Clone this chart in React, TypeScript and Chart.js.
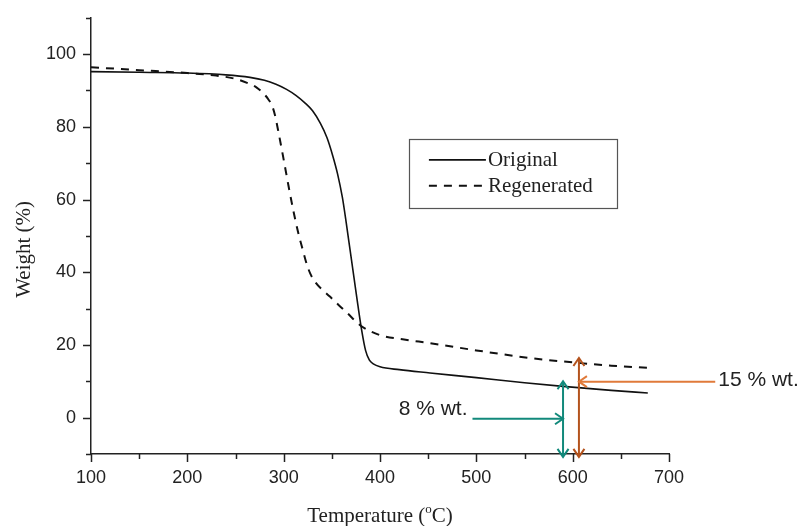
import React, { useEffect, useRef } from 'react';
import { Chart, registerables } from 'chart.js';

Chart.register(...registerables);

// ---- Data ----
const originalTemp = [100, 150, 200, 240, 265, 280, 292, 303, 313, 322, 330, 338, 345, 351, 356, 361, 365, 369, 373, 377, 381, 385, 389, 393, 400, 420, 452, 500, 550, 590, 640, 678];
const originalWeight = [95.2, 95.0, 94.8, 94.3, 93.6, 92.8, 91.7, 90.3, 88.6, 86.6, 84.4, 81.0, 77.0, 72.0, 67.0, 60.5, 53.5, 46.0, 38.5, 31.0, 24.0, 18.5, 15.8, 14.8, 14.0, 13.2, 12.3, 11.0, 9.6, 8.6, 7.5, 6.8];

const regenTemp = [100, 150, 200, 230, 250, 262, 272, 279, 284, 288, 291, 295, 300, 305, 310, 315, 320, 324, 328, 333, 340, 348, 357, 366, 379, 400, 425, 452, 500, 556, 608, 640, 678];
const regenWeight = [96.4, 95.6, 94.8, 94.1, 93.2, 92.1, 90.8, 89.2, 87.6, 85.8, 83.2, 78.0, 71.0, 63.8, 57.0, 51.0, 46.0, 42.2, 39.4, 37.2, 35.2, 33.3, 31.0, 28.8, 25.5, 22.7, 21.5, 20.5, 18.5, 16.4, 15.0, 14.3, 13.7];

const seriesLabels = ['Original', 'Regenerated'];

const xMin = 100;
const xMax = 700;
const xStep = 50;
const xLabelStep = 100;
const yMin = -10;
const yMax = 110;
const yStep = 10;
const yLabelStep = 20;

const xTitle = 'Temperature (';
const xTitleSup = 'o';
const xTitleEnd = 'C)';
const yTitle = 'Weight (%)';

// annotation arrows (data units)
const annotLabels = ['8 % wt.', '15 % wt.'];
const annotTemps = [590, 606.5];          // vertical double arrows
const annotTops = [10, 16.4];             // top of vertical arrows (weight)
const annotBottom = -10.8;                // bottom of vertical arrows
const annotPointerFrom = [496, 748];      // start of horizontal pointer (temp)
const annotPointerWeight = [-0.3, 9.9];   // weight of horizontal pointer
const annotLabelWeight = [2.4, 10.4];
const annotColorsV = ['#12897b', '#b4531d'];
const annotColorsH = ['#12897b', '#e07a3a'];

const AXIS_COLOR = '#222222';

function drawHead(ctx: CanvasRenderingContext2D, x: number, y: number, dir: 'up' | 'down' | 'left' | 'right') {
  const L = 8;
  const W = 5.5;
  ctx.beginPath();
  if (dir === 'up') { ctx.moveTo(x - W, y + L); ctx.lineTo(x, y); ctx.lineTo(x + W, y + L); }
  if (dir === 'down') { ctx.moveTo(x - W, y - L); ctx.lineTo(x, y); ctx.lineTo(x + W, y - L); }
  if (dir === 'left') { ctx.moveTo(x + L, y - W); ctx.lineTo(x, y); ctx.lineTo(x + L, y + W); }
  if (dir === 'right') { ctx.moveTo(x - L, y - W); ctx.lineTo(x, y); ctx.lineTo(x - L, y + W); }
  ctx.stroke();
}

const decorPlugin = {
  id: 'decor',
  afterDraw(chart: any) {
    const ctx: CanvasRenderingContext2D = chart.ctx;
    const xs = chart.scales.x;
    const ys = chart.scales.y;
    const area = chart.chartArea;
    ctx.save();

    // ticks (major + minor)
    ctx.strokeStyle = AXIS_COLOR;
    ctx.lineWidth = 1.5;
    for (let v = xMin; v <= xMax; v += xStep) {
      const px = Math.round(xs.getPixelForValue(v)) + 0.5;
      const len = v % xLabelStep === 0 ? 8 : 5;
      ctx.beginPath();
      ctx.moveTo(px, area.bottom);
      ctx.lineTo(px, area.bottom + len);
      ctx.stroke();
    }
    for (let v = yMin; v <= yMax; v += yStep) {
      const py = Math.round(ys.getPixelForValue(v)) + 0.5;
      const len = v % yLabelStep === 0 ? 8 : 5;
      ctx.beginPath();
      ctx.moveTo(area.left, py);
      ctx.lineTo(area.left - len, py);
      ctx.stroke();
    }

    // axis titles
    ctx.fillStyle = '#222';
    ctx.font = '21px "Liberation Serif"';
    ctx.textBaseline = 'alphabetic';
    const w1 = ctx.measureText(xTitle).width;
    ctx.font = '13px "Liberation Serif"';
    const w2 = ctx.measureText(xTitleSup).width;
    ctx.font = '21px "Liberation Serif"';
    const w3 = ctx.measureText(xTitleEnd).width;
    const total = w1 + w2 + w3;
    const cx = (area.left + area.right) / 2;
    let tx = cx - total / 2;
    const ty = 522;
    ctx.textAlign = 'left';
    ctx.fillText(xTitle, tx, ty);
    tx += w1;
    ctx.font = '13px "Liberation Serif"';
    ctx.fillText(xTitleSup, tx, ty - 9);
    tx += w2;
    ctx.font = '21px "Liberation Serif"';
    ctx.fillText(xTitleEnd, tx, ty);

    ctx.save();
    ctx.translate(24, ys.getPixelForValue(46.3));
    ctx.rotate(-Math.PI / 2);
    ctx.textAlign = 'center';
    ctx.textBaseline = 'middle';
    ctx.font = '21px "Liberation Serif"';
    ctx.fillText(yTitle, 0, 0);
    ctx.restore();

    // legend
    const lx = xs.getPixelForValue(430);
    const ly = ys.getPixelForValue(76.7);
    const lw = 208;
    const lh = 69;
    ctx.strokeStyle = '#555';
    ctx.lineWidth = 1.2;
    ctx.strokeRect(Math.round(lx) + 0.5, Math.round(ly) + 0.5, lw, lh);
    chart.data.datasets.forEach((ds: any, i: number) => {
      const rowY = ly + 21 + i * 26;
      ctx.strokeStyle = '#111';
      ctx.lineWidth = ds.borderWidth;
      ctx.setLineDash(ds.borderDash || []);
      ctx.beginPath();
      ctx.moveTo(lx + 20, rowY);
      ctx.lineTo(lx + 77, rowY);
      ctx.stroke();
      ctx.setLineDash([]);
      ctx.fillStyle = '#222';
      ctx.font = '21px "Liberation Serif"';
      ctx.textAlign = 'left';
      ctx.textBaseline = 'middle';
      ctx.fillText(ds.label, lx + 79, rowY + 1);
    });

    // annotations
    ctx.lineWidth = 2;
    for (let i = 0; i < annotLabels.length; i++) {
      const vx = xs.getPixelForValue(annotTemps[i]);
      const vTop = ys.getPixelForValue(annotTops[i]);
      const vBot = ys.getPixelForValue(annotBottom);
      ctx.strokeStyle = annotColorsV[i];
      ctx.beginPath();
      ctx.moveTo(vx, vTop);
      ctx.lineTo(vx, vBot);
      ctx.stroke();
      drawHead(ctx, vx, vTop, 'up');
      drawHead(ctx, vx, vBot, 'down');

      const hy = ys.getPixelForValue(annotPointerWeight[i]);
      const hx0 = xs.getPixelForValue(annotPointerFrom[i]);
      ctx.strokeStyle = annotColorsH[i];
      ctx.beginPath();
      ctx.moveTo(hx0, hy);
      ctx.lineTo(vx, hy);
      ctx.stroke();
      drawHead(ctx, vx, hy, hx0 < vx ? 'right' : 'left');

      ctx.fillStyle = '#222';
      ctx.font = '21px "Liberation Sans"';
      ctx.textBaseline = 'middle';
      const lyy = ys.getPixelForValue(annotLabelWeight[i]);
      if (hx0 < vx) {
        ctx.textAlign = 'right';
        ctx.fillText(annotLabels[i], hx0 - 5, lyy);
      } else {
        ctx.textAlign = 'left';
        ctx.fillText(annotLabels[i], hx0 + 3, lyy);
      }
    }

    ctx.restore();
  },
};

export default function App() {
  const canvasRef = useRef<HTMLCanvasElement | null>(null);

  useEffect(() => {
    if (!canvasRef.current) return;
    const chart = new Chart(canvasRef.current, {
      type: 'scatter',
      data: {
        datasets: [
          {
            label: seriesLabels[0],
            data: originalTemp.map((t, i) => ({ x: t, y: originalWeight[i] })),
            showLine: true,
            borderColor: '#111',
            borderWidth: 1.6,
            pointRadius: 0,
            cubicInterpolationMode: 'monotone',
          },
          {
            label: seriesLabels[1],
            data: regenTemp.map((t, i) => ({ x: t, y: regenWeight[i] })),
            showLine: true,
            borderColor: '#111',
            borderWidth: 2,
            borderDash: [8, 7],
            pointRadius: 0,
            cubicInterpolationMode: 'monotone',
          },
        ] as any,
      },
      options: {
        animation: false,
        responsive: true,
        maintainAspectRatio: false,
        layout: { padding: { top: 16, right: 138, left: 0, bottom: 0 } },
        plugins: { legend: { display: false }, tooltip: { enabled: false } },
        scales: {
          x: {
            type: 'linear',
            min: xMin,
            max: xMax,
            afterFit: (s: any) => { s.height = 72; },
            grid: { display: true, drawOnChartArea: false, drawTicks: true, tickLength: 8, color: 'rgba(0,0,0,0)', tickColor: 'rgba(0,0,0,0)' },
            border: { display: true, color: AXIS_COLOR, width: 1.5 },
            ticks: {
              stepSize: xStep,
              autoSkip: false,
              maxRotation: 0,
              padding: 5,
              color: '#222',
              font: { family: '"Liberation Sans"', size: 18 },
              callback: (v: any) => (Number(v) % xLabelStep === 0 ? String(v) : ''),
            },
          },
          y: {
            type: 'linear',
            min: yMin,
            max: yMax,
            afterFit: (s: any) => { s.width = 91; },
            grid: { display: true, drawOnChartArea: false, drawTicks: true, tickLength: 8, color: 'rgba(0,0,0,0)', tickColor: 'rgba(0,0,0,0)' },
            border: { display: true, color: AXIS_COLOR, width: 1.5 },
            ticks: {
              stepSize: yStep,
              autoSkip: false,
              padding: 7,
              color: '#222',
              font: { family: '"Liberation Sans"', size: 18 },
              callback: (v: any) => (Number(v) % yLabelStep === 0 && Number(v) >= 0 && Number(v) <= 100 ? String(v) : ''),
            },
          },
        },
      } as any,
      plugins: [decorPlugin],
    });
    return () => chart.destroy();
  }, []);

  return (
    <div style={{ position: 'absolute', left: 0, top: 0, width: 807, height: 526, background: '#fff' }}>
      <canvas ref={canvasRef} />
    </div>
  );
}
